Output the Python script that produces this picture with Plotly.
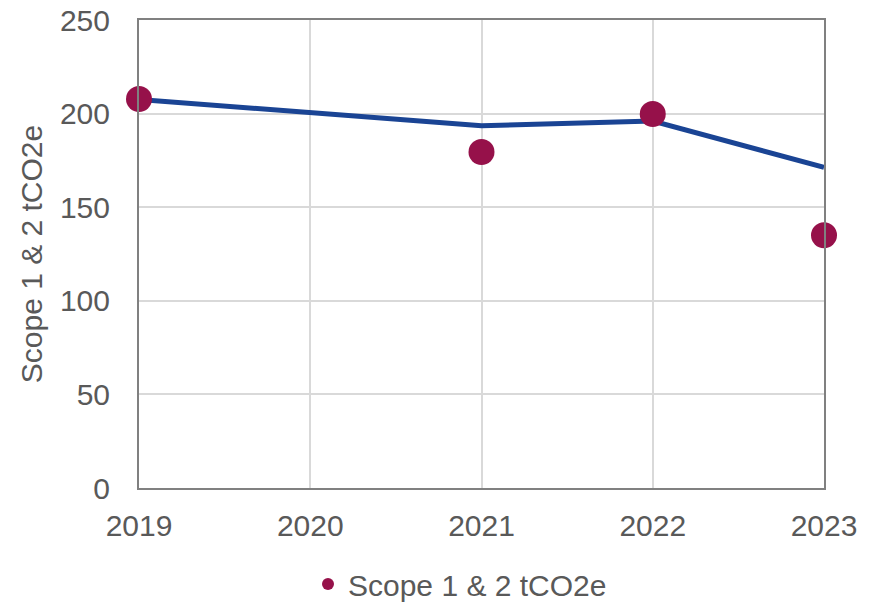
import plotly.graph_objects as go

years = [2019, 2020, 2021, 2022, 2023]
trend_values = [207.5, 200.5, 193.5, 196, 171.3]
actual_values = [207.8, None, 179.5, 199.8, 135]
series_name = "Scope 1 & 2 tCO2e"
y_ticks = [0, 50, 100, 150, 200, 250]

FONT = "Liberation Sans, Arial, sans-serif"
TEXT = "#595959"
FS = 30

fig = go.Figure()
fig.add_trace(go.Scatter(
    x=years, y=trend_values, mode="lines",
    line=dict(color="#1a4494", width=5),
    showlegend=False, hoverinfo="skip", cliponaxis=False,
))
fig.add_trace(go.Scatter(
    x=years, y=actual_values, mode="markers", name=series_name,
    marker=dict(color="#96114a", size=26),
    cliponaxis=False,
))

fig.update_layout(
    width=877, height=620,
    margin=dict(l=131, r=61, t=12, b=140),
    paper_bgcolor="white", plot_bgcolor="white",
    font=dict(family=FONT, size=FS, color=TEXT),
    showlegend=True,
    legend=dict(orientation="h", x=0.2467, xanchor="left", y=-0.1496, yanchor="top",
                font=dict(family=FONT, size=FS, color=TEXT), itemsizing="constant"),
    xaxis=dict(range=[2019, 2023], tickmode="array", tickvals=years,
               ticktext=[str(y) for y in years],
               showgrid=True, gridcolor="#d9d9d9", gridwidth=1.5,
               showline=True, linecolor="#808080", linewidth=2, mirror=True,
               zeroline=False, ticks="", ticklabelstandoff=10,
               ticklabeloverflow="allow", automargin=False,
               tickfont=dict(family=FONT, size=FS, color=TEXT)),
    yaxis=dict(range=[0, 250], tickvals=y_ticks,
               showgrid=True, gridcolor="#d9d9d9", gridwidth=1.5,
               showline=True, linecolor="#808080", linewidth=2, mirror=True,
               zeroline=False, ticks="", ticklabelstandoff=21,
               ticklabeloverflow="allow", automargin=False,
               title=dict(text=series_name, standoff=8,
                          font=dict(family=FONT, size=FS, color=TEXT)),
               tickfont=dict(family=FONT, size=FS, color=TEXT)),
)

fig.write_html("out.html")
